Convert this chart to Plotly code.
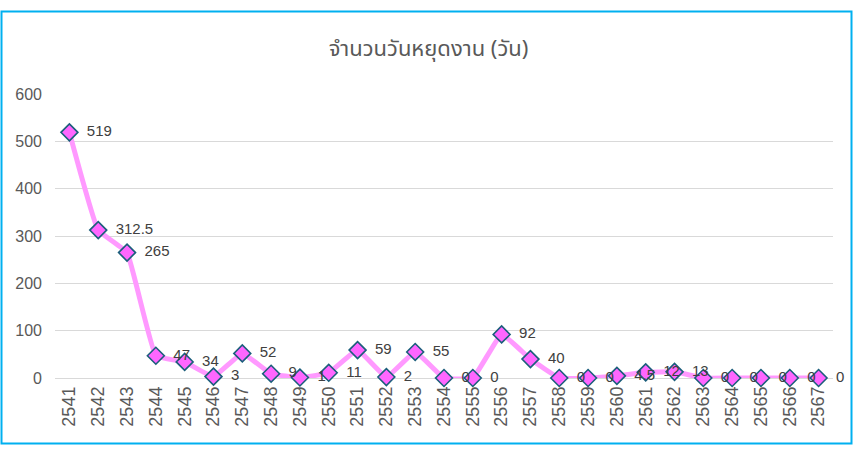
import plotly.graph_objects as go

years = [str(y) for y in range(2541, 2568)]
days = [519, 312.5, 265, 47, 34, 3, 52, 9, 1, 11, 59, 2, 55, 0, 0, 92, 40,
        0, 0, 4.5, 12, 13, 0, 0, 0, 0, 0]
title_text = "จำนวนวันหยุดงาน (วัน)"
y_ticks = [0, 100, 200, 300, 400, 500, 600]

W, H = 857, 458
L, R, T, B = 55, 24, 94, 80
pw, ph = W - L - R, H - T - B

def px_to_paper_x(px):
    return (px - L) / pw

def px_to_paper_y(py):
    return (H - B - py) / ph

labels = ["\u00a0\u00a0" + f"{v:g}" for v in days]

fig = go.Figure()
fig.add_trace(go.Scatter(
    x=years, y=days, mode="lines+markers+text",
    line=dict(color="#FF99FF", width=5, shape="spline", smoothing=0.3),
    marker=dict(symbol="diamond", size=13, color="#FF66FF",
                line=dict(color="#1B5E7B", width=1.6)),
    text=labels, textposition="middle right",
    textfont=dict(family="Liberation Sans, Arial, sans-serif", size=15, color="#404040"),
    cliponaxis=False, hoverinfo="x+y",
))

fig.add_shape(type="rect", xref="paper", yref="paper",
              x0=px_to_paper_x(1.5), x1=px_to_paper_x(851.5),
              y0=px_to_paper_y(443.5), y1=px_to_paper_y(11.5),
              line=dict(color="#00B0F0", width=2), fillcolor="rgba(0,0,0,0)")

fig.update_layout(
    width=W, height=H,
    margin=dict(l=L, r=R, t=T, b=B),
    paper_bgcolor="white", plot_bgcolor="white",
    showlegend=False,
    title=dict(text=title_text, x=0.5, xref="container", xanchor="center",
               y=1 - 48 / H, yref="container", yanchor="middle",
               font=dict(family="Noto Sans Thai, Noto Sans, Liberation Sans, sans-serif",
                         size=22, color="#595959")),
    font=dict(family="Liberation Sans, Arial, sans-serif", color="#595959"),
)
fig.update_xaxes(type="category", range=[-0.5, len(years) - 0.5],
                 tickangle=-90, tickfont=dict(size=18, color="#595959"),
                 showgrid=False, showline=False, ticks="", ticklabelstandoff=4)
fig.update_yaxes(range=[0, 600], tickvals=y_ticks, showgrid=True,
                 gridcolor="#D9D9D9", gridwidth=1, zeroline=True,
                 zerolinecolor="#D9D9D9", zerolinewidth=1,
                 tickfont=dict(size=16, color="#595959"), ticks="",
                 ticklabelstandoff=12, showline=False)

fig.write_html("out.html", config={"displayModeBar": False},
               post_script="document.body.style.margin='0';")
